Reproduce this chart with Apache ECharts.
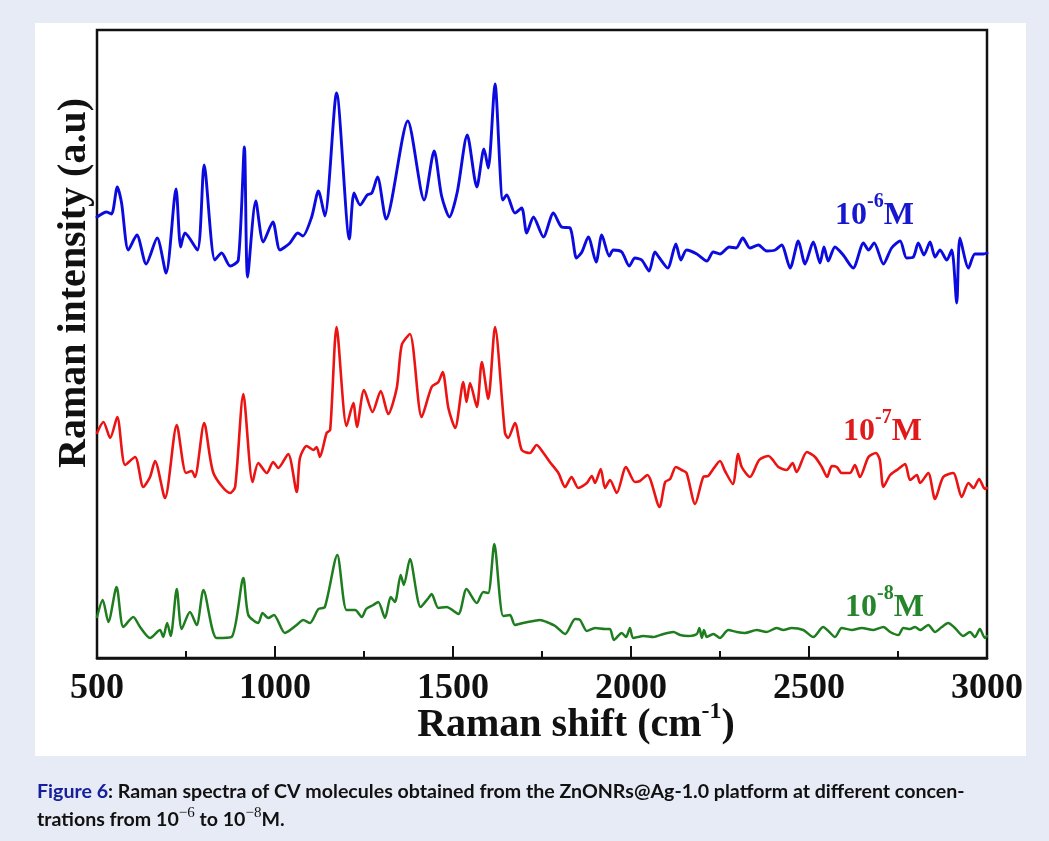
<!DOCTYPE html>
<html><head><meta charset="utf-8">
<script src="https://cdn.jsdelivr.net/npm/echarts@6/dist/echarts.min.js"></script>
<style>
html,body{margin:0;padding:0;background:#e7ebf5;}
#wrap{position:relative;width:1049px;height:841px;background:#e7ebf5;overflow:hidden;}
#panel{position:absolute;left:35px;top:23px;width:991px;height:733px;background:#fff;}
#chart{position:absolute;left:0;top:0;width:1049px;height:841px;}
</style></head><body>
<div id="wrap"><div id="panel"></div><div id="chart"></div></div>
<script>
// Raman shift (cm^-1) and intensity (a.u.)
const blueShift = [500,527,541,557,569,588,612,638,669,694,722,735,747,782,801,831,850,874,897,914,923,946,967,994,1014,1042,1064,1078,1103,1122,1140,1173,1209,1222,1239,1259,1272,1288,1312,1373,1419,1447,1468,1490,1512,1540,1567,1587,1599,1618,1640,1651,1674,1693,1707,1726,1754,1782,1805,
  1829,1847,1862,1880,1902,1918,1939,1950,1974,1995,2011,2030,2051,2067,2080,2103,2126,2140,2156,2185,2213,2231,2250,2276,2295,2314,2334,2358,2381,2405,2423,2447,2470,2489,2512,2531,2542,2554,2573,2596,2624,2653,2667,2683,2709,2732,2756,2774,2793,2807,2823,2840,2854,2868,2887,2901,2915,2924,2948,2966,2990,3000];
const blueInt = [441,446,444,471,455,408,423,394,420,385,469,411,425,408,493,398,405,392,398,511,381,457,416,436,408,415,425,422,441,467,442,565,419,465,453,463,465,481,439,537,458,507,462,441,466,523,471,509,490,574,458,463,445,450,425,441,421,445,431,
  430,400,406,421,396,423,402,408,406,392,400,398,387,406,400,390,414,398,408,404,397,406,404,411,410,420,410,413,407,408,413,390,417,394,416,395,411,397,411,403,390,415,408,415,394,410,417,400,401,415,403,416,401,408,398,408,355,420,390,404,404,405];

const redShift = [500,518,537,557,579,607,630,649,663,691,724,750,766,775,801,827,874,888,911,937,953,977,995,1009,1037,1061,1070,1089,1108,1117,1126,1145,1155,1173,1201,1220,1230,1250,1274,1297,1318,1342,1356,1379,1412,1440,1459,1471,1487,1506,1529,1538,1548,1567,1581,1599,1618,1646,1655,1674,1693,1716,1735,
  1744,1772,1796,1815,1833,1852,1876,1890,1899,1915,1927,1941,1960,1986,2011,2025,2046,2080,2096,2110,2126,2142,2156,2180,2203,2217,2231,2250,2264,2286,2301,2311,2334,2360,2386,2414,2437,2454,2465,2494,2517,2536,2551,2564,2578,2592,2615,2629,2643,2667,2688,2699,2709,2728,2751,2770,2784,2803,2812,2835,2854,2877,2905,2929,2948,2962,2978,2994,3000];
const redInt = [225,236,220,241,193,201,171,181,197,160,233,185,187,181,235,185,165,171,264,176,195,185,196,190,204,166,200,212,208,211,201,225,228,331,232,255,231,268,246,267,244,270,313,324,241,271,276,286,250,230,276,256,275,251,296,259,331,225,220,235,208,205,213,
  210,196,185,171,181,170,175,182,175,189,170,178,165,191,176,177,183,151,176,179,191,188,185,154,181,182,189,197,187,174,204,191,181,198,202,191,188,195,186,206,201,191,181,192,191,185,185,193,181,201,205,198,171,183,189,194,178,183,175,185,159,181,185,161,175,170,179,169,170];

const greenShift = [500,516,532,555,574,602,621,649,677,686,697,707,724,738,761,780,799,836,878,911,925,953,965,981,997,1028,1061,1079,1098,1122,1140,1175,1201,1225,1244,1256,1276,1290,1309,1325,1337,1353,1362,1379,1409,1431,1440,1459,1482,1515,1538,1567,1585,1599,1616,1641,1660,1674,1697,1726,
  1744,1763,1787,1815,1843,1857,1876,1899,1927,1941,1952,1974,1986,1997,2006,2035,2063,2091,2119,2138,2161,2185,2192,2199,2205,2213,2231,2250,2273,2297,2320,2353,2381,2409,2428,2451,2484,2512,2540,2557,2573,2592,2620,2648,2681,2709,2728,2751,2765,2784,2798,2812,2835,2854,2873,2891,2910,2933,2952,2966,2980,2994,3000];
const greenInt = [41,58,36,71,31,41,31,20,28,21,35,22,69,29,46,33,68,20,21,80,43,35,45,40,43,25,33,38,35,49,51,103,48,48,41,49,53,56,40,61,56,83,73,99,51,60,64,50,51,44,69,55,66,65,114,42,43,33,35,37,
  38,36,32,24,39,38,27,30,29,29,18,25,21,30,20,22,21,24,26,23,22,24,30,20,28,21,24,20,28,26,25,28,26,30,28,30,28,21,31,26,21,30,28,30,28,31,26,23,30,29,31,28,33,26,31,35,30,22,26,21,29,20,22];

const xTicks = [500,1000,1500,2000,2500,3000];
const seriesNames = ['10^-6 M','10^-7 M','10^-8 M'];

const serif = '"Liberation Serif","Times New Roman",serif';
const zip = (a, b) => a.map((v, i) => [v, b[i]]);
const C = {blue:'#0b0be0', red:'#ec1313', green:'#1e7d1e'};

function lineSeries(name, xs, ys, color, w) {
  return {name, type:'line', data: zip(xs, ys), showSymbol:false, smooth:0.25,
    lineStyle:{color, width:w, cap:'round', join:'round'}, itemStyle:{color}, z:3};
}
function concLabel(x, y, exp, color) {
  return {type:'text', x, y, z:10, style:{
    text:'{b|10}{s|' + exp + '}{b|M}', align:'left', verticalAlign:'middle',
    rich:{
      b:{fontSize:32, fontWeight:'bold', fontFamily:serif, lineHeight:48, fill:color},
      s:{fontSize:20, fontWeight:'bold', fontFamily:serif, lineHeight:20, verticalAlign:'top', fill:color}
    }}};
}

const chart = echarts.init(document.getElementById('chart'), null, {renderer:'canvas'});
chart.setOption({
  backgroundColor:'transparent',
  animation:false,
  grid:{left:97, right:62, top:30, bottom:183, show:true, borderColor:'#111', borderWidth:2.5, backgroundColor:'transparent'},
  xAxis:{type:'value', min:500, max:3000, interval:500,
    axisLine:{show:true, onZero:false, lineStyle:{color:'#111', width:2.5}},
    axisTick:{show:true, inside:true, length:12, lineStyle:{color:'#111', width:2}},
    minorTick:{show:true, splitNumber:2, length:7, lineStyle:{color:'#111', width:2}},
    splitLine:{show:false}, minorSplitLine:{show:false},
    axisLabel:{fontFamily:serif, fontWeight:'bold', fontSize:36, color:'#111', margin:13,
      showMinLabel:true, showMaxLabel:true,
      formatter:(v) => xTicks.includes(v) ? String(v) : ''}},
  yAxis:{type:'value', min:0, max:628, axisLine:{show:false}, axisTick:{show:false},
    axisLabel:{show:false}, splitLine:{show:false}},
  series:[
    lineSeries(seriesNames[0], blueShift, blueInt, C.blue, 2.9),
    lineSeries(seriesNames[1], redShift, redInt, C.red, 2.6),
    lineSeries(seriesNames[2], greenShift, greenInt, C.green, 2.5)
  ],
  graphic:[
    concLabel(835, 216, '-6', '#1717cf'),
    concLabel(843, 432, '-7', '#e01a1a'),
    concLabel(845, 608, '-8', '#24852a'),
    {type:'text', x:576, y:726, z:10, style:{
      text:'{b|Raman shift (cm}{s|-1}{b|)}', align:'center', verticalAlign:'middle',
      rich:{
        b:{fontSize:40, fontWeight:'bold', fontFamily:serif, lineHeight:52, fill:'#111'},
        s:{fontSize:24, fontWeight:'bold', fontFamily:serif, lineHeight:22, verticalAlign:'top', fill:'#111'}
      }}},
    {type:'text', x:75, y:283, rotation:Math.PI/2, z:10, style:{
      text:'Raman intensity (a.u)', align:'center', verticalAlign:'middle',
      fontSize:40, fontWeight:'bold', fontFamily:serif, fill:'#111'}},
    {type:'text', x:37, y:792, z:10, style:{
      text:'{f|Figure 6}{t|: Raman spectra of CV molecules obtained from the ZnONRs@Ag-1.0 platform at different concen-}',
      align:'left', verticalAlign:'middle',
      rich:{
        f:{fontSize:19.6, fontWeight:'bold', fontFamily:'Lato', fill:'#16209c', lineHeight:28},
        t:{fontSize:19.6, fontWeight:'bold', fontFamily:'Lato', fill:'#111', lineHeight:28}
      }}},
    {type:'text', x:37, y:820, z:10, style:{
      text:'{t|trations from 10}{s|\u22126}{t| to 10}{s|\u22128}{t|M.}',
      align:'left', verticalAlign:'middle',
      rich:{
        t:{fontSize:19.6, fontWeight:'bold', fontFamily:'Lato', fill:'#111', lineHeight:28},
        s:{fontSize:15, fontFamily:serif, fill:'#111', lineHeight:15, verticalAlign:'top'}
      }}}
  ]
});
</script>
</body></html>
